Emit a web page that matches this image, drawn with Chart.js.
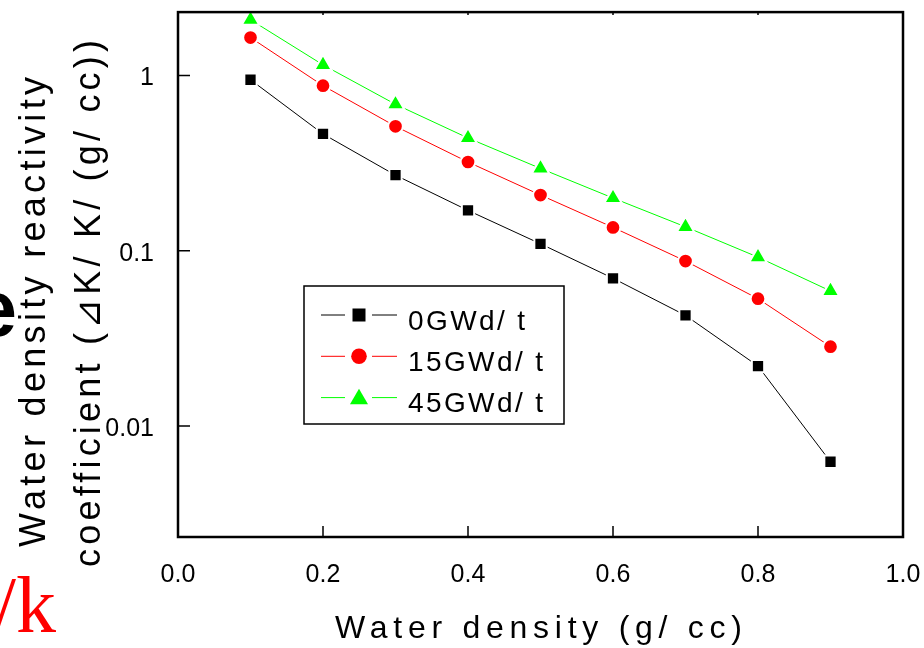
<!DOCTYPE html>
<html>
<head>
<meta charset="utf-8">
<script src="https://cdn.jsdelivr.net/npm/chart.js@4/dist/chart.umd.min.js"></script>
<style>
  html, body { margin: 0; padding: 0; background: #fff; }
  canvas { display: block; }
</style>
</head>
<body>
<canvas id="coefChart" width="924" height="648"></canvas>
<script>
// water density (g/cc) and reactivity coefficient for each burnup
const densities = [0.1, 0.2, 0.3, 0.4, 0.5, 0.6, 0.7, 0.8, 0.9];
const burnup0 = [0.946, 0.464, 0.270, 0.170, 0.1096, 0.0697, 0.0428, 0.0220, 0.00626];
const burnup15 = [1.646, 0.875, 0.513, 0.321, 0.208, 0.136, 0.0874, 0.0533, 0.0284];
const burnup45 = [2.08, 1.15, 0.685, 0.440, 0.295, 0.200, 0.137, 0.092, 0.059];
const seriesNames = ['0GWd/ t', '15GWd/ t', '45GWd/ t'];

const xTickValues = [0, 0.2, 0.4, 0.6, 0.8, 1.0];
const xTickLabels = ['0.0', '0.2', '0.4', '0.6', '0.8', '1.0'];
const yTickValues = [0.01, 0.1, 1];
const yTickLabels = ['0.01', '0.1', '1'];

const FONT = '"Liberation Sans", Arial, sans-serif';

function pairs(ys) {
    return densities.map((x, i) => ({ x: x, y: ys[i] }));
}

function series(label, values, color, style, radius) {
    return {
        label: label,
        data: pairs(values),
        borderColor: color,
        borderWidth: 1,
        pointStyle: style,
        pointRadius: radius,
        pointHoverRadius: radius,
        pointBackgroundColor: color,
        pointBorderColor: '#fff',
        pointBorderWidth: 2,
        tension: 0
    };
}

function findLabel(v, values, labels) {
    for (let i = 0; i < values.length; i++) {
        if (Math.abs(v - values[i]) < values[i] * 1e-6 + 1e-9) return labels[i];
    }
    return null;
}

// keep the plot box fixed: no extra room for overhanging tick labels
function noOverhang(scale) {
    scale.paddingTop = 0;
    scale.paddingBottom = 0;
    scale.paddingLeft = 0;
    scale.paddingRight = 0;
}

// stretch a string so it spans the given width
function spacedText(ctx, str, x, y, width) {
    ctx.letterSpacing = '0px';
    const natural = ctx.measureText(str).width;
    const gap = (width - natural) / (str.length - 1);
    ctx.letterSpacing = gap + 'px';
    ctx.textAlign = 'left';
    ctx.fillText(str, x, y);
    ctx.letterSpacing = '0px';
}

const decorations = {
    id: 'decorations',
    afterDraw(chart) {
        const ctx = chart.ctx;
        const a = chart.chartArea;
        const xs = chart.scales.x;
        const ys = chart.scales.y;

        ctx.save();
        ctx.strokeStyle = '#000';
        ctx.lineWidth = 1.5;
        ctx.beginPath();
        ys.ticks.forEach(t => {
            const py = ys.getPixelForValue(t.value);
            if (py < a.top || py > a.bottom) return;
            const len = t.label ? 12 : 6;
            ctx.moveTo(a.left, py);
            ctx.lineTo(a.left + len, py);
        });
        xs.ticks.forEach(t => {
            const px = xs.getPixelForValue(t.value);
            const len = t.label ? 11 : 6;
            ctx.moveTo(px, a.bottom);
            ctx.lineTo(px, a.bottom - len);
            ctx.moveTo(px, a.top);
            ctx.lineTo(px, a.top + 3);
        });
        ctx.stroke();

        // axis frame
        ctx.lineWidth = 2.5;
        ctx.strokeRect(a.left, a.top, a.right - a.left, a.bottom - a.top);

        // legend
        ctx.lineWidth = 1.5;
        ctx.strokeRect(304, 286, 260, 138);
        const legendSizes = { rect: 9.2, circle: 7.8, triangle: 10.4 };
        chart.data.datasets.forEach((ds, i) => {
            const cy = 315 + i * 41.3;
            ctx.strokeStyle = ds.borderColor;
            ctx.lineWidth = 1;
            ctx.beginPath();
            ctx.moveTo(321, cy);
            ctx.lineTo(345, cy);
            ctx.moveTo(372, cy);
            ctx.lineTo(397, cy);
            ctx.stroke();
            ctx.fillStyle = ds.pointBackgroundColor;
            Chart.helpers.drawPoint(ctx, {
                pointStyle: ds.pointStyle,
                radius: legendSizes[ds.pointStyle],
                rotation: 0,
                borderWidth: 0
            }, 359, cy + (ds.pointStyle === 'triangle' ? 1.5 : 0));
            ctx.fillStyle = '#000';
            ctx.font = '28px ' + FONT;
            ctx.textBaseline = 'alphabetic';
            ctx.textAlign = 'left';
            ctx.letterSpacing = '2.4px';
            ctx.fillText(ds.label, 408, 330 + i * 41);
            ctx.letterSpacing = '0px';
        });

        // axis titles
        ctx.fillStyle = '#000';
        ctx.textBaseline = 'alphabetic';
        ctx.font = '32px ' + FONT;
        spacedText(ctx, 'Water density (g/ cc)', 335, 638, 407);

        ctx.font = '36px ' + FONT;
        ctx.save();
        ctx.translate(45, 547);
        ctx.rotate(-Math.PI / 2);
        spacedText(ctx, 'Water density reactivity', 0, 0, 470);
        ctx.restore();
        ctx.save();
        ctx.translate(100, 567);
        ctx.rotate(-Math.PI / 2);
        spacedText(ctx, 'coefficient (⊿K/ K/ (g/ cc))', 0, 0, 527);
        ctx.restore();

        // fragments of neighbouring text at the left margin
        ctx.fillStyle = '#ff0000';
        ctx.font = '80px "Liberation Serif", "Times New Roman", serif';
        ctx.textAlign = 'right';
        ctx.fillText('/k', 56, 632);
        ctx.fillStyle = '#000';
        ctx.font = 'bold 80px ' + FONT;
        ctx.fillText('e', 17, 336);
        ctx.restore();
    }
};

new Chart(document.getElementById('coefChart').getContext('2d'), {
    type: 'line',
    data: {
        datasets: [
            series(seriesNames[0], burnup0, '#000000', 'rect', 8.7),
            series(seriesNames[1], burnup15, '#ff0000', 'circle', 7.35),
            series(seriesNames[2], burnup45, '#00ff00', 'triangle', 10.1)
        ]
    },
    options: {
        responsive: false,
        animation: false,
        devicePixelRatio: 1,
        layout: { padding: { top: 7, right: 21, bottom: 0, left: 0 } },
        plugins: {
            legend: { display: false },
            tooltip: { enabled: false }
        },
        scales: {
            x: {
                type: 'linear',
                min: 0,
                max: 1,
                grid: { display: false },
                border: { display: false },
                afterBuildTicks: scale => {
                    const t = [];
                    for (let i = 0; i <= 10; i++) t.push({ value: i / 10 });
                    scale.ticks = t;
                },
                afterFit: scale => {
                    scale.height = 111;
                    noOverhang(scale);
                },
                ticks: {
                    autoSkip: false,
                    maxRotation: 0,
                    padding: 15,
                    color: '#000',
                    font: { family: FONT, size: 25 },
                    callback: v => findLabel(v, xTickValues, xTickLabels)
                }
            },
            y: {
                type: 'logarithmic',
                min: 0.00233,
                max: 2.30,
                grid: { display: false },
                border: { display: false },
                afterBuildTicks: scale => {
                    const t = [];
                    for (let e = -3; e <= 0; e++) {
                        for (let m = 1; m <= 9; m++) {
                            const v = m * Math.pow(10, e);
                            if (v >= scale.min && v <= scale.max) t.push({ value: v });
                        }
                    }
                    scale.ticks = t;
                },
                afterFit: scale => {
                    scale.width = 178;
                    noOverhang(scale);
                },
                ticks: {
                    autoSkip: false,
                    padding: 16,
                    labelOffset: 3,
                    color: '#000',
                    font: { family: FONT, size: 25 },
                    callback: v => findLabel(v, yTickValues, yTickLabels)
                }
            }
        }
    },
    plugins: [decorations]
});
</script>
</body>
</html>
